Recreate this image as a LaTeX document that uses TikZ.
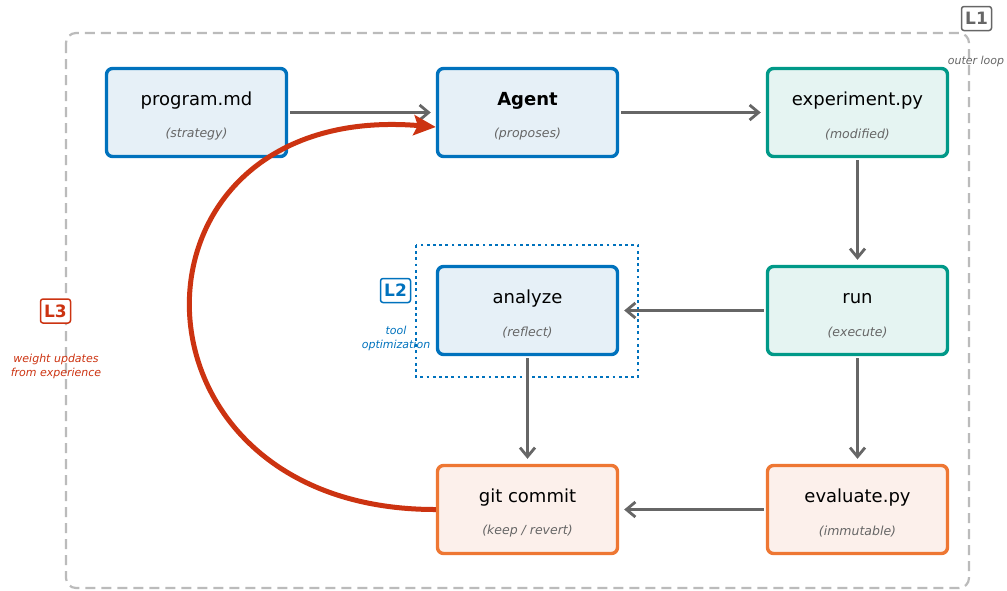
\documentclass[tikz,border=0pt]{standalone}
\usepackage{fontspec}
\setmainfont{DejaVu Sans}
\usetikzlibrary{arrows.meta}
\definecolor{cblue}{RGB}{0,114,189}
\definecolor{fblue}{RGB}{230,240,247}
\definecolor{cteal}{RGB}{0,153,136}
\definecolor{fteal}{RGB}{229,244,242}
\definecolor{corange}{RGB}{238,119,51}
\definecolor{forange}{RGB}{252,240,235}
\definecolor{cred}{RGB}{204,51,17}
\definecolor{cgray}{RGB}{102,102,102}
\definecolor{cframe}{RGB}{187,187,187}
\tikzset{
  box/.style={draw, line width=3.4pt, rounded corners=6pt, minimum width=180pt, minimum height=88pt, inner sep=0pt},
  bluebox/.style={box, draw=cblue, fill=fblue},
  tealbox/.style={box, draw=cteal, fill=fteal},
  orangebox/.style={box, draw=corange, fill=forange},
  ttl/.style={font=\fontsize{18}{21}\selectfont, text=black},
  sub/.style={font=\fontsize{12.5}{15}\selectfont\itshape, text=cgray},
  flow/.style={draw=cgray, line width=2.8pt, -{Straight Barb[length=9pt,width=15pt,line width=2.8pt]}},
  badge/.style={draw, line width=1.5pt, fill=white, rounded corners=2.5pt, inner sep=0pt, minimum width=30pt, minimum height=24pt, font=\fontsize{17}{19}\selectfont\bfseries},
  note/.style={font=\fontsize{11}{14}\selectfont\itshape, align=center},
}
\begin{document}
\begin{tikzpicture}[x=1pt,y=-1pt]
\useasboundingbox (0,0) rectangle (1007,590);
% outer loop frame
\draw[cframe, line width=2.2pt, dash pattern=on 10pt off 6pt, rounded corners=10pt] (66,33) rectangle (969,588);
% tool optimization frame
\draw[cblue, line width=2.8pt, dash pattern=on 2.8pt off 3.4pt] (416,245) rectangle (638,377);

% boxes
\node[bluebox] (prog) at (196.5,112.5) {};
\node[ttl] at (196.5,101) {program.md};
\node[sub] at (196.5,134.5) {(strategy)};

\node[bluebox] (agent) at (527.5,112.5) {};
\node[ttl,font=\fontsize{18}{21}\selectfont\bfseries] at (527.5,101) {Agent};
\node[sub] at (527.5,134.5) {(proposes)};

\node[tealbox] (exp) at (857.5,112.5) {};
\node[ttl] at (857.5,101) {experiment.py};
\node[sub] at (857.5,134.5) {(modified)};

\node[bluebox] (ana) at (527.5,310.5) {};
\node[ttl] at (527.5,299) {analyze};
\node[sub] at (527.5,332.5) {(reflect)};

\node[tealbox] (run) at (857.5,310.5) {};
\node[ttl] at (857.5,299) {run};
\node[sub] at (857.5,332.5) {(execute)};

\node[orangebox] (git) at (527.5,509.5) {};
\node[ttl] at (527.5,498) {git commit};
\node[sub] at (527.5,531.5) {(keep / revert)};

\node[orangebox] (eval) at (857.5,509.5) {};
\node[ttl] at (857.5,498) {evaluate.py};
\node[sub] at (857.5,531.5) {(immutable)};

% flow arrows
\draw[flow] ([xshift=2pt]prog.east) -- ([xshift=-5pt]agent.west);
\draw[flow] ([xshift=2pt]agent.east) -- ([xshift=-5pt]exp.west);
\draw[flow] ([yshift=-2pt]exp.south) -- ([yshift=5pt]run.north);
\draw[flow] ([xshift=-2pt]run.west) -- ([xshift=5pt]ana.east);
\draw[flow] ([yshift=-2pt]run.south) -- ([yshift=5pt]eval.north);
\draw[flow] ([yshift=-2pt]ana.south) -- ([yshift=5pt]git.north);
\draw[flow] ([xshift=-2pt]eval.west) -- ([xshift=5pt]git.east);

% weight update loop
\coordinate (gitin) at (git.west);
\coordinate (agin) at ([yshift=-14.5pt]agent.west);
\draw[cred, line width=5pt, -{Stealth[length=22pt,width=20pt,inset=4pt]}]
  (gitin) .. controls (110,510) and (110,100) .. (agin);

% loop badges
\node[badge, draw=cgray, text=cgray] (l1) at (976.5,18.5) {L1};
\node[note, text=cgray] (l1n) at (976,61) {outer loop};
\node[badge, draw=cblue, text=cblue] (l2) at (395.5,290.5) {L2};
\node[note, text=cblue] (l2n) at (396,338.5) {tool\\optimization};
\node[badge, draw=cred, text=cred] (l3) at (55.5,311) {L3};
\node[note, text=cred] (l3n) at (56,366.5) {weight updates\\from experience};
\end{tikzpicture}
\end{document}
